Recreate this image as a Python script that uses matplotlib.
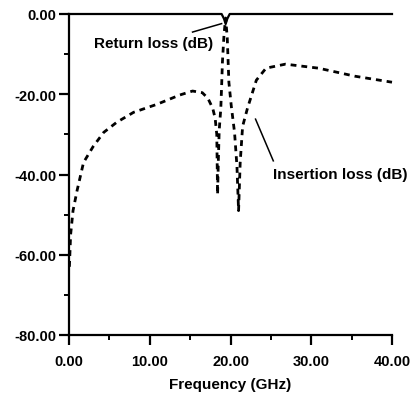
import matplotlib
matplotlib.use("Agg")
import matplotlib.pyplot as plt
from matplotlib.ticker import MultipleLocator, FormatStrFormatter

# Insertion loss (dashed)
il_freq = [0.05, 0.2, 0.5, 1.0, 1.8, 3.0, 4.3, 5.9, 8.0, 10.9, 13.7, 15.3, 16.5,
           17.2, 17.8, 18.1, 18.3, 18.4, 18.5, 18.6, 18.8, 18.9, 19.0, 19.2, 19.4,
           19.6, 19.8, 20.1, 20.5, 20.8, 21.0, 21.2, 21.5, 22.1, 23.2, 24.4,
           26.8, 30.9, 35.4, 40.0]
il_db = [-63, -55, -49, -44, -37, -33, -29.5, -27, -24.5, -22.5, -20.2, -19.2, -19.6,
         -21, -23.5, -26, -30, -45, -36, -29, -23.5, -18, -12, -5, -1,
         -6, -17, -23, -29.5, -38, -49, -37, -28, -23.5, -16.5, -13.5,
         -12.5, -13.5, -15.5, -17]

# Return loss (solid)
rl_freq = [0.0, 18.9, 19.2, 19.4, 19.6, 19.9, 40.0]
rl_db = [0.0, 0.0, -1.2, -2.5, -1.2, 0.0, 0.0]

x_ticks = [0, 10, 20, 30, 40]
y_ticks = [-80, -60, -40, -20, 0]

plt.rcParams['font.family'] = ['Liberation Sans', 'DejaVu Sans']
plt.rcParams['font.weight'] = 'bold'

fig = plt.figure(figsize=(4.12, 4.02), dpi=100)
ax = fig.add_axes([69/412, 66/402, (392-69)/412, (336-15)/402])

ax.plot(rl_freq, rl_db, color='black', lw=1.6, clip_on=False)
ax.plot(il_freq, il_db, color='black', lw=2.0, linestyle=(0, (2.1, 1.8)), clip_on=False)

ax.set_xlim(0, 40)
ax.set_ylim(-80, 0)
ax.set_xticks(x_ticks)
ax.set_yticks(y_ticks)
ax.xaxis.set_minor_locator(MultipleLocator(5))
ax.yaxis.set_minor_locator(MultipleLocator(10))
ax.xaxis.set_major_formatter(FormatStrFormatter('%.2f'))
ax.yaxis.set_major_formatter(FormatStrFormatter('%.2f'))

for s in ['top', 'right']:
    ax.spines[s].set_visible(False)
for s in ['left', 'bottom']:
    ax.spines[s].set_linewidth(1.6)

ax.tick_params(which='major', direction='out', length=7, width=1.6, labelsize=10.5)
ax.tick_params(which='minor', direction='out', length=3.5, width=1.4)
ax.tick_params(axis='x', which='major', pad=7)
ax.tick_params(axis='y', which='major', pad=2)
for lab in ax.get_xticklabels() + ax.get_yticklabels():
    lab.set_fontweight('bold')

ax.set_xlabel('Frequency (GHz)', fontsize=11, fontweight='bold', labelpad=6)

ax.text(3.1, -7.2, 'Return loss (dB)', fontsize=11, fontweight='bold', ha='left', va='center')
ax.plot([15.3, 18.9], [-4.5, -2.4], color='black', lw=1.1, clip_on=False)

ax.text(25.3, -39.9, 'Insertion loss (dB)', fontsize=11, fontweight='bold', ha='left', va='center',
        clip_on=False)
ax.plot([23.1, 25.3], [-26.2, -36.6], color='black', lw=1.1, clip_on=False)

fig.savefig('out.png', dpi=100)
